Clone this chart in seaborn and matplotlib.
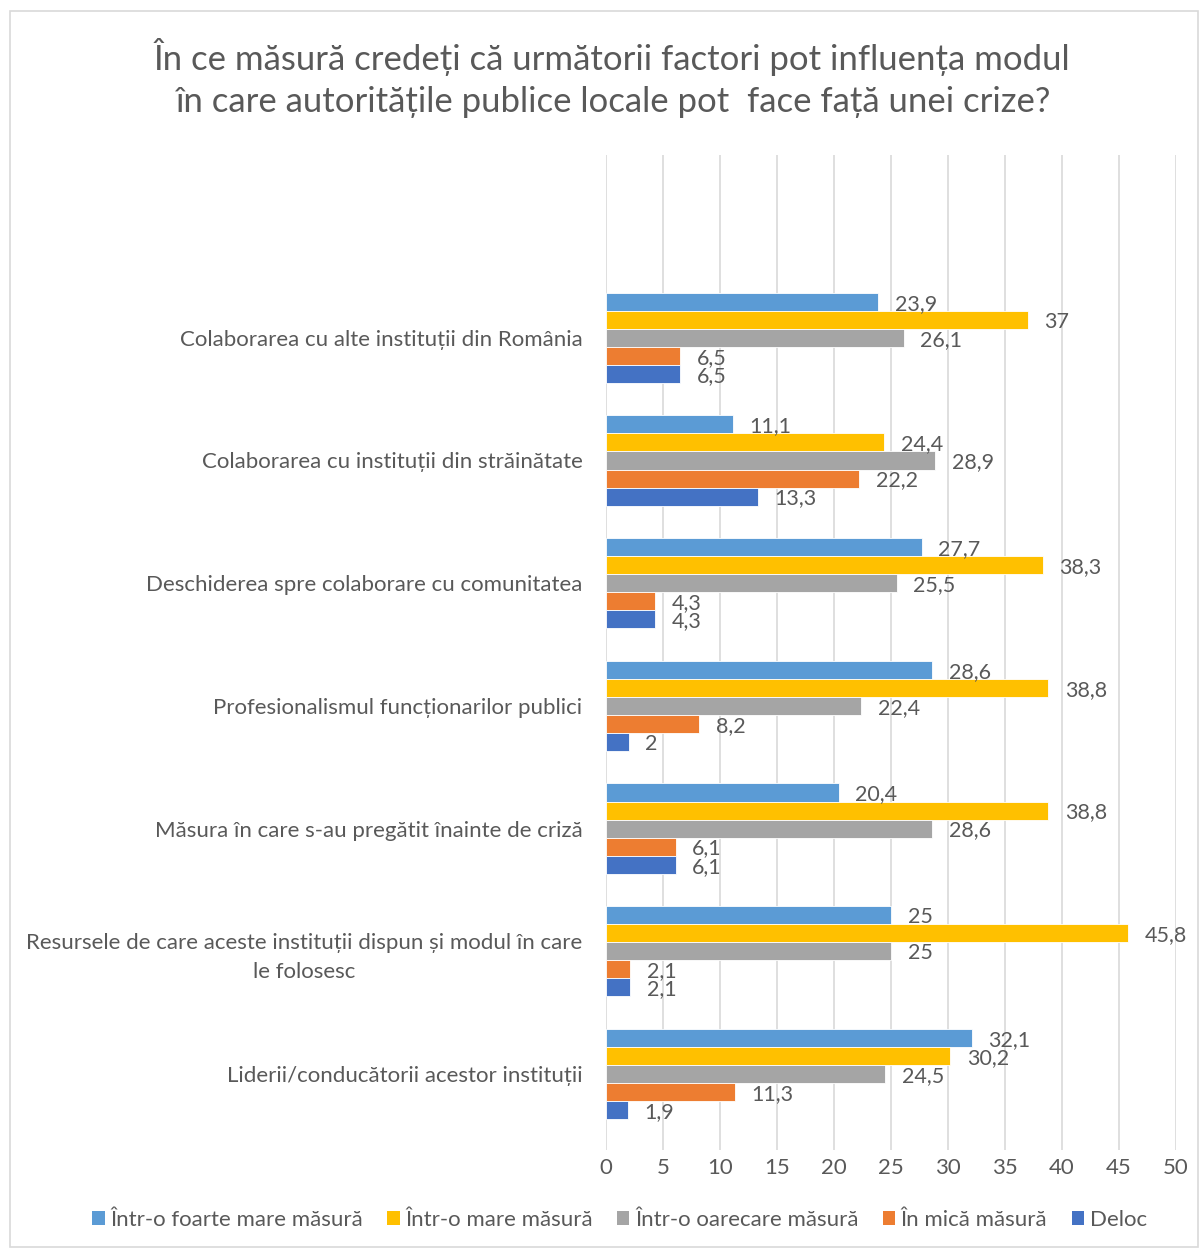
import seaborn as sns
import matplotlib.pyplot as plt
import pandas as pd
from matplotlib.patches import Rectangle, Patch

categories = [
    "Colaborarea cu alte instituții din România",
    "Colaborarea cu instituții din străinătate",
    "Deschiderea spre colaborare cu comunitatea",
    "Profesionalismul funcționarilor publici",
    "Măsura în care s-au pregătit înainte de criză",
    "Resursele de care aceste instituții dispun și modul în care\nle folosesc",
    "Liderii/conducătorii acestor instituții",
]
series_names = [
    "Într-o foarte mare măsură",
    "Într-o mare măsură",
    "Într-o oarecare măsură",
    "În mică măsură",
    "Deloc",
]
foarte_mare = [23.9, 11.1, 27.7, 28.6, 20.4, 25, 32.1]
mare = [37, 24.4, 38.3, 38.8, 38.8, 45.8, 30.2]
oarecare = [26.1, 28.9, 25.5, 22.4, 28.6, 25, 24.5]
mica = [6.5, 22.2, 4.3, 8.2, 6.1, 2.1, 11.3]
deloc = [6.5, 13.3, 4.3, 2, 6.1, 2.1, 1.9]
x_ticks = [0, 5, 10, 15, 20, 25, 30, 35, 40, 45, 50]
colors = ["#5B9BD5", "#FFC000", "#A5A5A5", "#ED7D31", "#4472C4"]

series_values = [foarte_mare, mare, oarecare, mica, deloc]
rows = []
for s, vals in zip(series_names, series_values):
    for c, v in zip(categories, vals):
        rows.append({"cat": c, "series": s, "val": v})
df = pd.DataFrame(rows)

sns.set_theme(style="white")
plt.rcParams["font.family"] = ["Lato", "DejaVu Sans"]
TXT = "#595959"

fig = plt.figure(figsize=(12.03, 12.49), dpi=100)
ax = fig.add_axes([606 / 1203, 1 - 1150 / 1249, (1176 - 606) / 1203, (1150 - 155) / 1249])

sns.barplot(data=df, y="cat", x="val", hue="series", orient="h",
            order=categories, hue_order=series_names, palette=colors,
            width=0.735, gap=0, dodge=True, edgecolor="white", linewidth=0.6,
            saturation=1, errorbar=None, legend=False, ax=ax)

def fmt(v):
    s = f"{v:g}"
    return s.replace(".", ",")

for cont in ax.containers:
    texts = ax.bar_label(cont, labels=[fmt(v) for v in cont.datavalues], padding=12,
                         fontsize=15.5, color=TXT)
    for t in texts:
        t.set_va("center_baseline")

ax.set_xlim(0, 50)
ax.set_xticks(x_ticks)
ax.set_ylim(6.62, -1.49)
ax.set_xlabel("")
ax.set_ylabel("")
for sp in ax.spines.values():
    sp.set_visible(False)
ax.grid(axis="x", color="#D9D9D9", linewidth=1.2)
ax.grid(axis="y", visible=False)
ax.set_axisbelow(True)
ax.tick_params(axis="both", length=0, colors=TXT, labelsize=16)
ax.tick_params(axis="y", pad=17)
ax.tick_params(axis="x", pad=6)
for t in ax.get_yticklabels():
    t.set_multialignment("center")
    t.set_linespacing(1.55)
    t.set_color(TXT)

fig.text(0.509, 1 - 78 / 1249,
         "În ce măsură credeți că următorii factori pot influența modul\nîn care autoritățile publice locale pot  face față unei crize?",
         ha="center", va="center", fontsize=25, color=TXT, linespacing=1.4)

handles = [Patch(facecolor=c, edgecolor="none") for c in colors]
fig.legend(handles, series_names, loc="center", bbox_to_anchor=(0.515, 1 - 1220 / 1249),
           ncol=5, frameon=False, fontsize=16, labelcolor=TXT,
           handlelength=0.55, handleheight=0.55, handletextpad=0.25, columnspacing=1.1)

fig.patches.append(Rectangle((10 / 1203, 2 / 1249), 1188 / 1203, 1 - 13 / 1249,
                             transform=fig.transFigure, fill=False,
                             edgecolor="#D9D9D9", linewidth=1.2))

fig.savefig("out.png", dpi=100)
